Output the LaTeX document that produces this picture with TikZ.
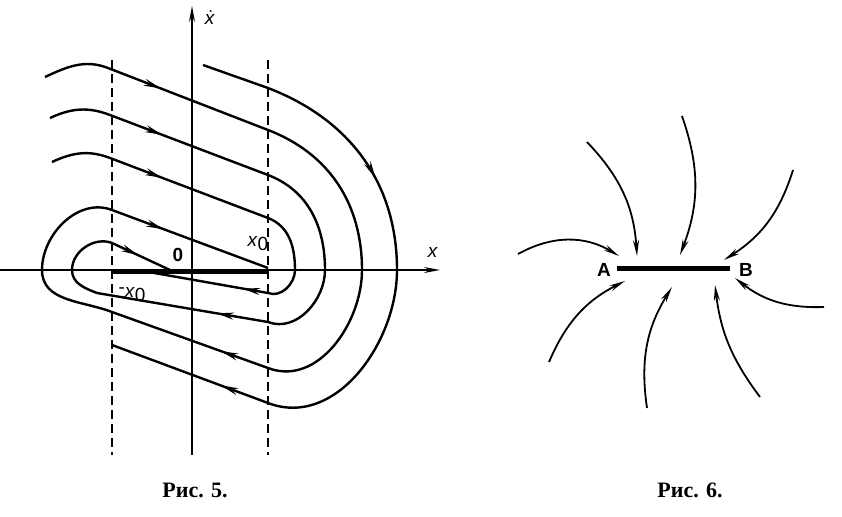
\documentclass[tikz,border=0pt]{standalone}
\usepackage{fontspec}
\setmainfont{Liberation Serif}
\setsansfont{Liberation Sans}
\usetikzlibrary{arrows.meta,decorations.markings,positioning}
\tikzset{traj/.style={line width=2.4pt},
         tip/.style={-{Stealth[length=16pt,width=6pt]}},
         mid/.style={postaction={decorate,decoration={markings,
           mark=at position #1 with {\arrow{Stealth[length=17pt,width=7pt]}}}}},
         guide/.style={line width=1.3pt,dash pattern=on 9pt off 5pt},
         lab/.style={font=\sffamily\fontsize{19}{22}\selectfont},
         caption/.style={font=\bfseries\fontsize{22}{26}\selectfont}}
\begin{document}
\begin{tikzpicture}[x=1pt,y=-1pt]
\useasboundingbox (0,0) rectangle (842,516);
% axes
\draw[line width=1.4pt,tip] (0,270) -- (440,270);
\draw[line width=1.4pt,tip] (192,455) -- (192,6);
\node[lab] (xl) at (433,252) {\textit{x}};
\node[lab] (vl) at (210,18) {\textit{\.x}};
\draw[guide] (112,60) -- (112,455);
\draw[guide] (268,60) -- (268,455);
\draw[line width=5pt] (112,271) -- (268,271);
\node[lab,font=\sffamily\bfseries\fontsize{19}{22}\selectfont] (o) at (178,255) {0};
\node[lab] (xp) at (258,244) {\textit{x}\raisebox{-4pt}{0}};
\node[lab] (xm) at (132,295) {\raisebox{4pt}{-}\textit{x}\raisebox{-4pt}{0}};
% trajectory A
\draw[traj] (45,77) to[out=25,in=159] (108,68);
\draw[traj,mid=0.33] (108,68) -- (268,130);
\draw[traj] (268,130) to[out=-21,in=90] (362,270) to[out=-90,in=-21] (268,368);
\draw[traj,mid=0.3] (268,368) -- (112,312);
\draw[traj] (112,312) to[out=159,in=-90] (42,270) to[out=90,in=159] (112,210);
\draw[traj,mid=0.33] (112,210) -- (268,268);
% trajectory B
\draw[traj] (50,118) to[out=25,in=159] (110,115);
\draw[traj,mid=0.33] (110,115) -- (268,175);
\draw[traj] (268,175) to[out=-21,in=90] (325,270) to[out=-90,in=-21] (268,322);
\draw[traj,mid=0.3] (268,322) -- (97,293);
\draw[traj] (97,293) to[out=159,in=-90] (72,270) to[out=90,in=159] (112,243);
\draw[traj,mid=0.45] (112,243) -- (170,270);
% trajectory C
\draw[traj] (52,162) to[out=25,in=159] (110,158);
\draw[traj,mid=0.33] (110,158) -- (268,218);
\draw[traj] (268,218) to[out=-21,in=90] (295,270) to[out=-90,in=-21] (268,293);
\draw[traj,mid=0.2] (268,293) -- (143,271);
% trajectory D
\draw[traj] (203,65) -- (268,88);
\draw[traj,mid=0.6] (268,88) to[out=-21,in=90] (397,270);
\draw[traj] (397,270) to[out=-90,in=-21] (268,403);
\draw[traj,mid=0.3] (268,403) -- (112,345);
\node[caption] (c5) at (195,490) {Рис. 5.};
% second figure
\draw[line width=5pt] (617,268) -- (730,268);
\node[lab,font=\sffamily\bfseries\fontsize{19}{22}\selectfont] (a) at (604,270) {A};
\node[lab,font=\sffamily\bfseries\fontsize{19}{22}\selectfont] (b) at (746,270) {B};
\coordinate (s1) at (518,254); \coordinate (e1) at (619,256);
\coordinate (s2) at (587,142); \coordinate (e2) at (637,256);
\coordinate (s3) at (682,116); \coordinate (e3) at (680,255);
\coordinate (s4) at (793,170); \coordinate (e4) at (724,260);
\coordinate (s5) at (824,307); \coordinate (e5) at (735,278);
\coordinate (s6) at (760,397); \coordinate (e6) at (715,285);
\coordinate (s7) at (647,408); \coordinate (e7) at (672,287);
\coordinate (s8) at (549,362); \coordinate (e8) at (625,281);
\draw[line width=1.8pt,tip] (s1) to[bend left=30] (e1);
\draw[line width=1.8pt,tip] (s2) to[bend left=20] (e2);
\draw[line width=1.8pt,tip] (s3) to[bend left=20] (e3);
\draw[line width=1.8pt,tip] (s4) to[bend left=20] (e4);
\draw[line width=1.8pt,tip] (s5) to[bend left=20] (e5);
\draw[line width=1.8pt,tip] (s6) to[bend left=15] (e6);
\draw[line width=1.8pt,tip] (s7) to[bend left=20] (e7);
\draw[line width=1.8pt,tip] (s8) to[bend left=20] (e8);
\node[caption] (c6) at (690,490) {Рис. 6.};
\end{tikzpicture}
\end{document}
